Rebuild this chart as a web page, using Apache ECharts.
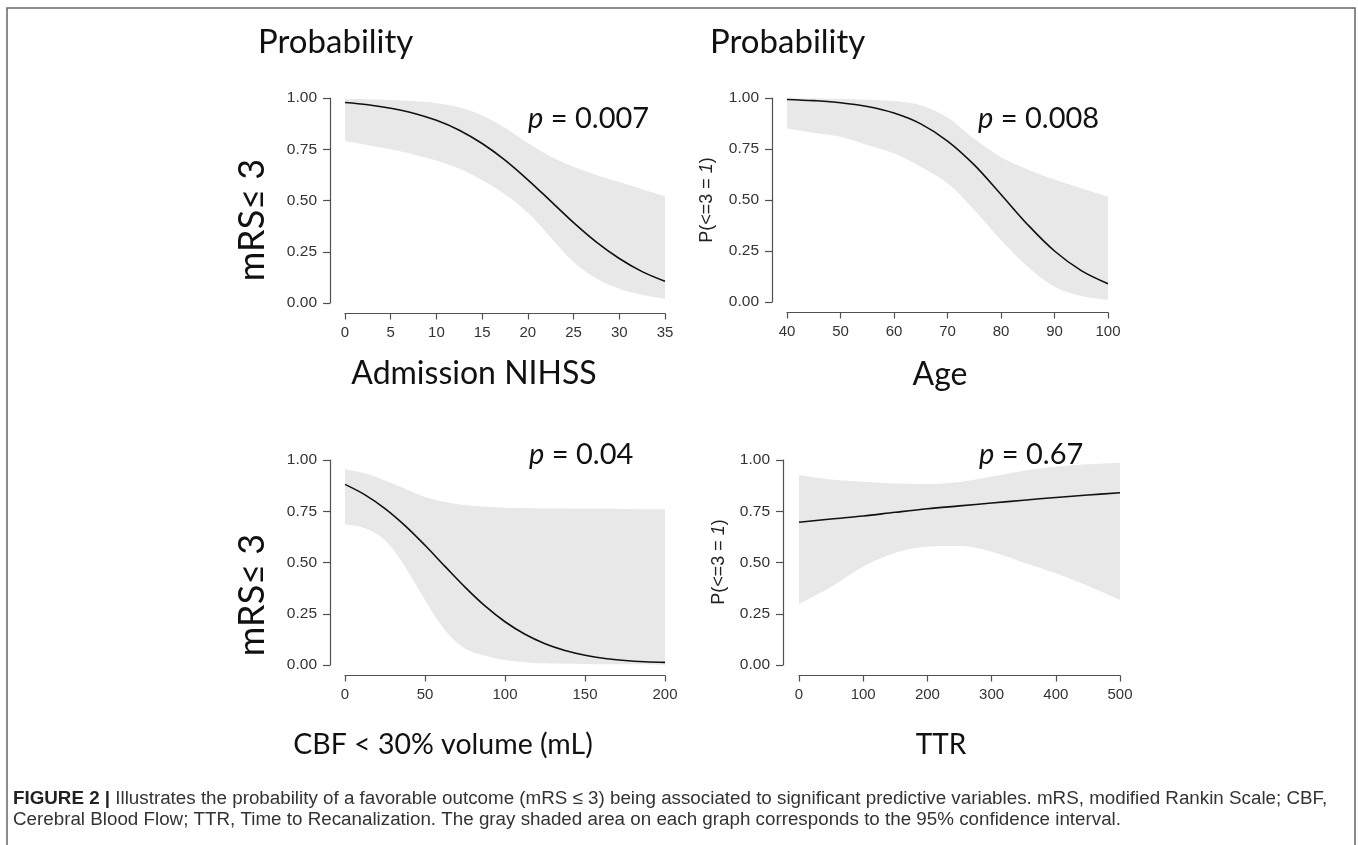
<!DOCTYPE html>
<html><head><meta charset="utf-8">
<script src="https://cdn.jsdelivr.net/npm/echarts@6/dist/echarts.min.js"></script>
<style>html,body{margin:0;padding:0;background:#fff;}#c{width:1358px;height:845px;}</style>
</head><body><div id="c"></div>
<script>
// ---- Panel A: Admission NIHSS ----
const nihssX   = [0, 2.5, 5, 7.5, 10, 12.5, 15, 17.5, 20, 22.5, 25, 27.5, 30, 32.5, 35];
const nihssFit = [0.978, 0.967, 0.950, 0.926, 0.891, 0.843, 0.778, 0.697, 0.601, 0.497, 0.392, 0.297, 0.217, 0.153, 0.106];
const nihssUp  = [0.995, 0.994, 0.990, 0.985, 0.975, 0.955, 0.915, 0.855, 0.780, 0.715, 0.665, 0.625, 0.590, 0.555, 0.520];
const nihssLo  = [0.790, 0.770, 0.750, 0.725, 0.695, 0.655, 0.600, 0.530, 0.440, 0.320, 0.200, 0.120, 0.070, 0.040, 0.020];
// ---- Panel B: Age ----
const ageX   = [40, 45, 50, 55, 60, 65, 70, 75, 80, 85, 90, 95, 100];
const ageFit = [0.993, 0.987, 0.977, 0.958, 0.926, 0.873, 0.789, 0.672, 0.527, 0.379, 0.250, 0.154, 0.090];
const ageUp  = [0.998, 0.997, 0.995, 0.992, 0.985, 0.965, 0.905, 0.800, 0.710, 0.650, 0.600, 0.557, 0.516];
const ageLo  = [0.851, 0.830, 0.810, 0.770, 0.729, 0.663, 0.582, 0.451, 0.304, 0.173, 0.075, 0.029, 0.010];
// ---- Panel C: CBF < 30% volume ----
const cbfX   = [0, 12.5, 25, 37.5, 50, 62.5, 75, 87.5, 100, 112.5, 125, 137.5, 150, 162.5, 175, 187.5, 200];
const cbfFit = [0.881, 0.830, 0.763, 0.680, 0.584, 0.481, 0.380, 0.288, 0.211, 0.150, 0.104, 0.071, 0.048, 0.032, 0.022, 0.016, 0.013];
const cbfUp  = [0.955, 0.935, 0.900, 0.860, 0.820, 0.795, 0.780, 0.772, 0.767, 0.765, 0.764, 0.763, 0.762, 0.762, 0.761, 0.760, 0.760];
const cbfLo  = [0.686, 0.667, 0.610, 0.480, 0.317, 0.170, 0.080, 0.045, 0.024, 0.014, 0.008, 0.006, 0.005, 0.004, 0.004, 0.004, 0.004];
// ---- Panel D: TTR ----
const ttrX   = [0, 50, 100, 150, 200, 250, 300, 350, 400, 450, 500];
const ttrFit = [0.696, 0.712, 0.727, 0.745, 0.762, 0.776, 0.790, 0.804, 0.817, 0.829, 0.840];
const ttrUp  = [0.927, 0.905, 0.894, 0.885, 0.883, 0.893, 0.919, 0.948, 0.967, 0.979, 0.987];
const ttrLo  = [0.298, 0.380, 0.480, 0.548, 0.577, 0.580, 0.553, 0.500, 0.447, 0.385, 0.317];

const yTicks = [0, 0.25, 0.5, 0.75, 1];
const pValues = ['0.007', '0.008', '0.04', '0.67'];
const xTitles = ['Admission NIHSS', 'Age', 'CBF < 30% volume (mL)', 'TTR'];
const xRanges = [[0, 35, 5], [40, 100, 10], [0, 200, 50], [0, 500, 100]];

const panels = [
  {x: nihssX, fit: nihssFit, up: nihssUp, lo: nihssLo},
  {x: ageX, fit: ageFit, up: ageUp, lo: ageLo},
  {x: cbfX, fit: cbfFit, up: cbfUp, lo: cbfLo},
  {x: ttrX, fit: ttrFit, up: ttrUp, lo: ttrLo}
];

const grids = [
  {left: 345, top: 98, width: 320, height: 205},
  {left: 787, top: 98, width: 321, height: 204},
  {left: 345, top: 460, width: 320, height: 205},
  {left: 799, top: 460, width: 321, height: 205}
];
const yOffsets = [15, 15, 15, 16];

const axisColor = '#505050';
const tickFont = 'Liberation Sans';
const bigFont = 'Lato';

const xAxes = xRanges.map((r, i) => ({
  type: 'value', gridIndex: i, min: r[0], max: r[1], interval: r[2],
  position: 'bottom', offset: 10.5, z: 10,
  axisLine: {show: true, onZero: false, lineStyle: {color: axisColor, width: 1.2}},
  axisTick: {show: true, length: 6, lineStyle: {color: axisColor, width: 1.2}},
  axisLabel: {margin: 12, fontSize: 15, fontFamily: tickFont, color: '#333'},
  splitLine: {show: false}
}));
const yAxes = grids.map((g, i) => ({
  type: 'value', gridIndex: i, min: yTicks[0], max: yTicks[yTicks.length - 1], interval: 0.25,
  position: 'left', offset: yOffsets[i], z: 10,
  axisLine: {show: true, onZero: false, lineStyle: {color: axisColor, width: 1.2}},
  axisTick: {show: true, length: 7, lineStyle: {color: axisColor, width: 1.2}},
  axisLabel: {margin: 13, fontSize: 15.5, fontFamily: tickFont, color: '#333',
    formatter: v => v.toFixed(2)},
  splitLine: {show: false}
}));

const series = [];
panels.forEach((p, i) => {
  // upper CI bound, filled gray down to the axis
  series.push({
    type: 'line', xAxisIndex: i, yAxisIndex: i, z: 2,
    data: p.x.map((x, k) => [x, p.up[k]]),
    smooth: 0.35, symbol: 'none', silent: true,
    lineStyle: {width: 0, opacity: 0},
    areaStyle: {color: '#e8e8e8', opacity: 1, origin: 'start'}
  });
  // lower CI bound, filled white down to the axis (clears below the band)
  series.push({
    type: 'line', xAxisIndex: i, yAxisIndex: i, z: 3,
    data: p.x.map((x, k) => [x, p.lo[k]]),
    smooth: 0.35, symbol: 'none', silent: true,
    lineStyle: {width: 0, opacity: 0},
    areaStyle: {color: '#ffffff', opacity: 1, origin: 'start'}
  });
  // fitted probability
  series.push({
    type: 'line', xAxisIndex: i, yAxisIndex: i, z: 5,
    data: p.x.map((x, k) => [x, p.fit[k]]),
    smooth: 0.35, symbol: 'none', silent: true,
    lineStyle: {color: '#111', width: 1.6}
  });
});

function txt(text, x, y, size, extra) {
  return Object.assign({
    type: 'text', x: x, y: y, z: 50, silent: true,
    style: Object.assign({
      text: text, fontSize: size, fontFamily: bigFont, fill: '#111',
      align: 'center', verticalAlign: 'middle',
      textAlign: 'center', textVerticalAlign: 'middle'
    }, (extra && extra.style) || {})
  }, (extra && extra.el) || {});
}
function pText(val, x, y) {
  return {
    type: 'text', x: x, y: y, z: 50, silent: true,
    style: {
      text: '{i|p} = ' + val, fontSize: 29, fontFamily: bigFont, fill: '#111',
      align: 'left', verticalAlign: 'middle', textAlign: 'left', textVerticalAlign: 'middle',
      rich: {i: {fontStyle: 'italic', fontSize: 29, fontFamily: bigFont, fill: '#111'}}
    }
  };
}
function pLab(x, y) {
  return {
    type: 'text', x: x, y: y, z: 50, rotation: Math.PI / 2, silent: true,
    style: {
      text: 'P(<=3 = {i|1})', fontSize: 18, fontFamily: tickFont, fill: '#222',
      align: 'center', verticalAlign: 'middle', textAlign: 'center', textVerticalAlign: 'middle',
      rich: {i: {fontStyle: 'italic', fontSize: 18, fontFamily: tickFont, fill: '#222'}}
    }
  };
}

const graphic = [
  {type: 'rect', silent: true, z: 40, shape: {x: 7, y: 8, width: 1348, height: 870},
   style: {fill: 'none', stroke: '#666', lineWidth: 1.5}},
  txt('Probability', 258, 42, 33, {style: {align: 'left', textAlign: 'left'}}),
  txt('Probability', 710, 42, 33, {style: {align: 'left', textAlign: 'left'}}),
  txt('mRS\u2264 3', 252, 220, 36, {el: {rotation: Math.PI / 2}}),
  txt('mRS\u2264 3', 252, 595, 36, {el: {rotation: Math.PI / 2}}),
  pLab(707, 200),
  pLab(719, 562),
  pText(pValues[0], 528, 119),
  pText(pValues[1], 978, 119),
  pText(pValues[2], 529, 455),
  pText(pValues[3], 979, 455),
  txt(xTitles[0], 474, 374, 32),
  txt(xTitles[1], 940, 375, 32),
  txt(xTitles[2], 443, 745, 28.5),
  txt(xTitles[3], 941, 745, 28),
  {type: 'text', x: 13, y: 799, z: 50, silent: true,
   style: {text: '{b|FIGURE 2 |} Illustrates the probability of a favorable outcome (mRS \u2264 3) being associated to significant predictive variables. mRS, modified Rankin Scale; CBF,',
     fontSize: 18.8, fontFamily: tickFont, fill: '#333', align: 'left', verticalAlign: 'middle',
     textAlign: 'left', textVerticalAlign: 'middle',
     rich: {b: {fontWeight: 'bold', fontSize: 18.8, fontFamily: tickFont, fill: '#222'}}}},
  {type: 'text', x: 13, y: 820, z: 50, silent: true,
   style: {text: 'Cerebral Blood Flow; TTR, Time to Recanalization. The gray shaded area on each graph corresponds to the 95% confidence interval.',
     fontSize: 18.8, fontFamily: tickFont, fill: '#333', align: 'left', verticalAlign: 'middle',
     textAlign: 'left', textVerticalAlign: 'middle'}}
];

const chart = echarts.init(document.getElementById('c'), null, {renderer: 'canvas'});
chart.setOption({
  animation: false,
  backgroundColor: '#fff',
  grid: grids,
  xAxis: xAxes,
  yAxis: yAxes,
  series: series,
  graphic: graphic
});
</script>
</body></html>
